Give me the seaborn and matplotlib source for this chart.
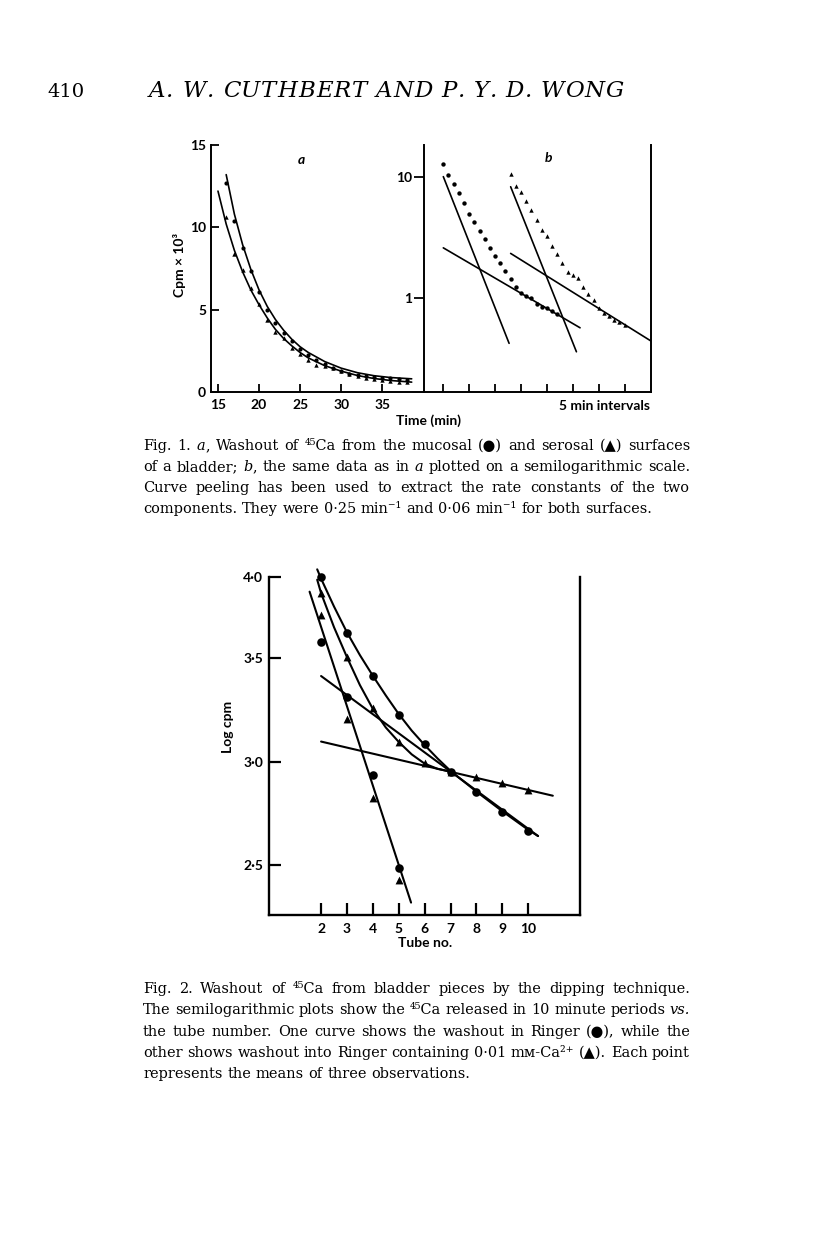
import numpy as np
import matplotlib
matplotlib.use("Agg")
import matplotlib.pyplot as plt
import matplotlib.ticker as mticker
import seaborn as sns

# ---- Fig. 1: washout, one point per minute ----
time_min = [16, 17, 18, 19, 20, 21, 22, 23, 24, 25, 26, 27,
            28, 29, 30, 31, 32, 33, 34, 35, 36, 37, 38]
mucosal = [12.7, 10.4, 8.74, 7.33, 6.07, 4.96, 4.21, 3.59, 3.07, 2.59, 2.24, 1.95,
           1.68, 1.44, 1.25, 1.10, 1.05, 1.00, 0.90, 0.85, 0.83, 0.78, 0.74]
serosal = [10.6, 8.37, 7.43, 6.30, 5.32, 4.40, 3.64, 3.25, 2.69, 2.30, 1.96, 1.65,
           1.55, 1.46, 1.25, 1.08, 0.97, 0.83, 0.76, 0.72, 0.67, 0.635, 0.60]

# fitted curves drawn through panel a
muc_fit_t = [16, 17, 18, 19, 20, 21, 22, 23, 24, 25, 26, 28, 30, 32, 34, 36, 38.6]
muc_fit = [13.2, 10.8, 8.95, 7.45, 6.2, 5.2, 4.4, 3.75, 3.2, 2.75, 2.4, 1.85, 1.45,
           1.17, 0.99, 0.88, 0.8]
ser_fit_t = [15, 16, 17, 18, 19, 20, 21, 22, 23, 24, 25, 26, 28, 30, 32, 34, 36, 38.6]
ser_fit = [12.2, 10.2, 8.6, 7.3, 6.2, 5.3, 4.5, 3.8, 3.25, 2.8, 2.4, 2.07, 1.6, 1.27,
           1.0, 0.82, 0.7, 0.6]

# peeled components (panel b), start/end in minutes
muc_fast_t, muc_fast = [16, 28.7], [10.0, 0.427]
muc_slow_t, muc_slow = [16, 42.4], [2.6, 0.573]
ser_fast_t, ser_fast = [16, 28.7], [8.26, 0.364]
ser_slow_t, ser_slow = [16, 43.1], [2.34, 0.446]

# ---- Fig. 2: dipping technique ----
tube = [2, 3, 4, 5, 6, 7, 8, 9, 10]
ringer = [3.895, 3.624, 3.416, 3.226, 3.086, 2.951, 2.855, 2.758, 2.666]
low_ca = [3.817, 3.505, 3.258, 3.097, 2.992, 2.951, 2.924, 2.895, 2.863]
peel_tube = [2, 3, 4, 5]
ringer_peel = [3.577, 3.314, 2.935, 2.487]
low_ca_peel = [3.709, 3.205, 2.826, 2.427]

steep_tube, steep = [1.556, 5.475], [3.822, 2.318]
ringer_slow_tube, ringer_slow = [2, 10.38], [3.414, 2.640]
low_ca_slow_tube, low_ca_slow = [2, 10.95], [3.097, 2.835]
ringer_curve_tube = [1.85, 2, 2.5, 3, 3.5, 4, 4.5, 5, 5.5, 6, 6.5, 7, 8, 9, 10, 10.38]
ringer_curve = [3.93, 3.885, 3.75, 3.625, 3.515, 3.415, 3.32, 3.23, 3.15, 3.08, 3.015,
                2.955, 2.855, 2.76, 2.67, 2.64]
low_ca_curve_tube = [1.85, 2, 2.5, 3, 3.5, 4, 4.5, 5, 5.5, 6, 6.5, 7]
low_ca_curve = [3.88, 3.815, 3.65, 3.505, 3.37, 3.255, 3.165, 3.095, 3.035, 2.99,
                2.965, 2.952]

fig1_caption = [
    "Fig. 1. _a_, Washout of \u2074\u2075Ca from the mucosal (\u25cf) and serosal (\u25b2) surfaces",
    "of a bladder; _b_, the same data as in _a_ plotted on a semilogarithmic scale.",
    "Curve peeling has been used to extract the rate constants of the two",
    "components. They were 0\u00b725 min\u207b\u00b9 and 0\u00b706 min\u207b\u00b9 for both surfaces.",
]
fig2_caption = [
    "Fig. 2. Washout of \u2074\u2075Ca from bladder pieces by the dipping technique.",
    "The semilogarithmic plots show the \u2074\u2075Ca released in 10 minute periods _vs._",
    "the tube number. One curve shows the washout in Ringer (\u25cf), while the",
    "other shows washout into Ringer containing 0\u00b701 m\u1d0d-Ca\u00b2\u207a (\u25b2). Each point",
    "represents the means of three observations.",
]

# panel b offsets the two series horizontally
B_SHIFT_MUC, B_SHIFT_SER = -11, 2

sns.set_style("ticks")
plt.rcParams["font.family"] = ["Lato", "DejaVu Sans"]
plt.rcParams["font.weight"] = "bold"
plt.rcParams.update({"text.color": "k", "axes.edgecolor": "k", "axes.labelcolor": "k",
                     "xtick.color": "k", "ytick.color": "k"})

W, H = 816, 1241
fig = plt.figure(figsize=(W / 100, H / 100), dpi=100)
renderer = fig.canvas.get_renderer()


def box(x0, y0, x1, y1):
    return [x0 / W, 1 - y1 / H, (x1 - x0) / W, (y1 - y0) / H]


def ftext(x, y, s, **kw):
    return fig.text(x / W, 1 - y / H, s, **kw)


def text_width(s, **kw):
    t = fig.text(0, 0, s, **kw)
    w = t.get_window_extent(renderer).width
    t.remove()
    return w


SERIF = ["DejaVu Serif", "DejaVu Sans"]


def caption_line(line, y, justify, x0=143, x1=690, size=10.45):
    kw = dict(fontsize=size, family=SERIF, weight="normal")
    words = []
    for w in line.split(" "):
        segs = w.split("_")
        words.append([(s, "italic" if i % 2 else "normal") for i, s in enumerate(segs) if s])
    widths = [[text_width(s, style=st, **kw) for s, st in wd] for wd in words]
    total = sum(sum(ws) for ws in widths)
    natural = size * 1.389 * 0.32
    gap = max((x1 - x0 - total) / (len(words) - 1), natural * 0.6) if justify else natural
    x = x0
    for wd, ws in zip(words, widths):
        for (s, st), w in zip(wd, ws):
            ftext(x, y, s, style=st, ha="left", va="baseline", **kw)
            x += w
        x += gap


def spread(s, x0, x1, y, space=6.0, **kw):
    ws = [text_width(c, **kw) if c != " " else space for c in s]
    extra = (x1 - x0 - sum(ws)) / (len(s) - 1)
    x = x0
    for c, w in zip(s, ws):
        if c != " ":
            ftext(x, y, c, ha="left", va="baseline", **kw)
        x += w + extra


# ---- page header ----
ftext(47, 97, "410", fontsize=14, family=SERIF, weight="normal", ha="left", va="baseline")
spread("A. W. CUTHBERT AND P. Y. D. WONG", 149, 624, 97, space=7.0,
       fontsize=16.5, family=SERIF, weight="normal", style="italic")

# ---- Fig. 1a ----
ax_a = fig.add_axes(box(211, 145, 424, 392))
ax_b = fig.add_axes(box(424, 145, 651, 392))
ax_2 = fig.add_axes(box(269.3, 577, 580, 915))

sns.lineplot(x=muc_fit_t, y=muc_fit, color="k", lw=1.2, ax=ax_a)
sns.lineplot(x=ser_fit_t, y=ser_fit, color="k", lw=1.2, ax=ax_a)
sns.scatterplot(x=time_min, y=mucosal, marker="o", s=9, color="k", linewidth=0, ax=ax_a)
sns.scatterplot(x=time_min, y=serosal, marker="^", s=10, color="k", linewidth=0, ax=ax_a)
ax_a.set_xlim(14.15, 40.1)
ax_a.set_ylim(0, 15)
ax_a.set_xticks([15, 20, 25, 30, 35])
ax_a.set_yticks([0, 5, 10, 15])
ax_a.tick_params(axis="both", direction="in", length=5.5, width=1.3, labelsize=10)
ax_a.tick_params(axis="x", pad=5)
ax_a.tick_params(axis="y", pad=3.5)
sns.despine(ax=ax_a)

# ---- Fig. 1b ----
ax_b.set_yscale("log")
for ft, fv, st, sv, shift in [(muc_fast_t, muc_fast, muc_slow_t, muc_slow, B_SHIFT_MUC),
                              (ser_fast_t, ser_fast, ser_slow_t, ser_slow, B_SHIFT_SER)]:
    sns.lineplot(x=np.array(ft) + shift, y=fv, color="k", lw=1.2, ax=ax_b)
    sns.lineplot(x=np.array(st) + shift, y=sv, color="k", lw=1.2, ax=ax_b)
sns.scatterplot(x=np.array(time_min) + B_SHIFT_MUC, y=mucosal, marker="o", s=10,
                color="k", linewidth=0, ax=ax_b)
sns.scatterplot(x=np.array(time_min) + B_SHIFT_SER, y=serosal, marker="^", s=10,
                color="k", linewidth=0, ax=ax_b)
ax_b.set_xlim(1.27, 45.1)
ax_b.set_ylim(0.17, 18.2)
ax_b.set_xticks([5, 10, 15, 20, 25, 30, 35, 40])
ax_b.set_yticks([1, 10], labels=["1", "10"])
ax_b.yaxis.set_minor_locator(mticker.NullLocator())
ax_b.tick_params(axis="x", direction="in", length=5.5, width=1.3, labelbottom=False)
ax_b.tick_params(axis="y", direction="out", length=7, width=1.3, pad=1.5, labelsize=10)
ax_b.spines["top"].set_visible(False)

for ax in (ax_a, ax_b):
    for sp in ax.spines.values():
        sp.set_linewidth(1.4)
    ax.set_xlabel("")
    ax.set_ylabel("")
    ax.set_facecolor("none")

ftext(301, 160, "a", fontsize=10, style="italic", ha="center", va="center")
ftext(548, 158, "b", fontsize=10, style="italic", ha="center", va="center")
ftext(650, 406, "5 min intervals", fontsize=10, ha="right", va="center")
ftext(428, 421, "Time (min)", fontsize=10, ha="center", va="center")
ftext(180, 265, "Cpm \u00d7 10\u00b3", fontsize=10, rotation=90, ha="center", va="center")

for i, line in enumerate(fig1_caption):
    caption_line(line, 450 + 21 * i, justify=i < len(fig1_caption) - 1)

# ---- Fig. 2 ----
sns.lineplot(x=ringer_curve_tube, y=ringer_curve, color="k", lw=1.5, ax=ax_2)
sns.lineplot(x=low_ca_curve_tube, y=low_ca_curve, color="k", lw=1.5, ax=ax_2)
sns.lineplot(x=steep_tube, y=steep, color="k", lw=1.5, ax=ax_2)
sns.lineplot(x=ringer_slow_tube, y=ringer_slow, color="k", lw=1.5, ax=ax_2)
sns.lineplot(x=low_ca_slow_tube, y=low_ca_slow, color="k", lw=1.5, ax=ax_2)
sns.scatterplot(x=tube, y=ringer, marker="o", s=38, color="k", linewidth=0, ax=ax_2)
sns.scatterplot(x=peel_tube, y=ringer_peel, marker="o", s=38, color="k", linewidth=0, ax=ax_2)
sns.scatterplot(x=tube, y=low_ca, marker="^", s=32, color="k", linewidth=0, ax=ax_2)
sns.scatterplot(x=peel_tube, y=low_ca_peel, marker="^", s=32, color="k", linewidth=0, ax=ax_2)

Y_TOP = 3.893
ax_2.set_xlim(0, 12)
ax_2.set_ylim(2.258, Y_TOP)
ax_2.set_xticks(tube)
ax_2.set_yticks([Y_TOP, 3.5, 3.0, 2.5], labels=["4\u00b70", "3\u00b75", "3\u00b70", "2\u00b75"])
ax_2.tick_params(axis="both", direction="in", length=8.5, width=1.6, labelsize=10)
ax_2.tick_params(axis="x", pad=6)
ax_2.tick_params(axis="y", pad=4.5)
ax_2.spines["top"].set_visible(False)
for sp in ax_2.spines.values():
    sp.set_linewidth(1.7)
ax_2.set_xlabel("")
ax_2.set_ylabel("")
ax_2.set_facecolor("none")
for art in list(ax_2.lines) + list(ax_2.collections) + list(ax_a.lines) + list(ax_a.collections):
    art.set_clip_on(False)

ftext(425, 943, "Tube no.", fontsize=10, ha="center", va="center")
ftext(228, 727, "Log cpm", fontsize=10, rotation=90, ha="center", va="center")

for i, line in enumerate(fig2_caption):
    caption_line(line, 993 + 21.3 * i, justify=i < len(fig2_caption) - 1)

fig.savefig("out.png", dpi=100)
